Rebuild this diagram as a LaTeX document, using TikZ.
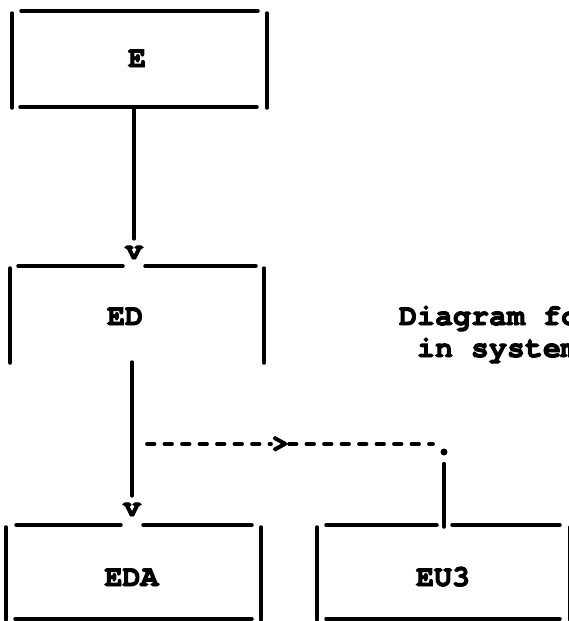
\documentclass[tikz,border=0pt]{standalone}
\usepackage{fontspec}
\newfontfamily\asciifont{TeX Gyre Cursor}[BoldFeatures={FakeBold=3.2}]
\newcommand\boxsides[1]{%
  \draw[ln] ([yshift=-2pt]#1.north west) -- ([yshift=-1pt]#1.south west);
  \draw[ln] ([yshift=-2pt]#1.north east) -- ([yshift=-1pt]#1.south east);}
\begin{document}
\begin{tikzpicture}[x=1pt,y=-1pt,
  ln/.style={line width=3.5pt,line cap=round},
  dsh/.style={line width=3.8pt,line cap=round,dash pattern=on 7.5pt off 10pt},
  lbl/.style={font=\asciifont\bfseries\fontsize{30}{32}\selectfont,inner sep=0pt,outer sep=0pt},
  frame/.style={rectangle,draw=none,inner sep=0pt,outer sep=0pt}]
\useasboundingbox (0,0) rectangle (569,621);

% box frames
\node[frame,minimum width=255pt,minimum height=96pt] (E) at (139.5,59) {};
\node[frame,minimum width=254pt,minimum height=96pt] (ED) at (137,314) {};
\node[frame,minimum width=255pt,minimum height=94pt] (EDA) at (133.5,572) {};
\node[frame,minimum width=253pt,minimum height=94pt] (EU3) at (443.5,572) {};

% labels
\node[lbl,anchor=base] (tE) at (137,67) {E};
\node[lbl,anchor=base] (tED) at (125,325) {ED};
\node[lbl,anchor=base] (tEDA) at (131.5,586) {EDA};
\node[lbl,anchor=base] (tEU3) at (443,586) {EU3};
\node[lbl,anchor=base west] (n1) at (399,325) {Diagram fo};
\node[lbl,anchor=base west] (n2) at (399,357) {\ in system};

% arrow heads (ASCII v)
\node[lbl,anchor=base] (v1) at (134,259) {v};
\node[lbl,anchor=base] (v2) at (132,516) {v};

% box E
\draw[ln] ([xshift=9pt]E.north west) -- ([xshift=-9pt]E.north east);
\draw[ln] ([xshift=8pt]E.south west) -- ([xshift=-10pt]E.south east);
\boxsides{E}

% box ED (open bottom)
\draw[ln] ([xshift=8pt]ED.north west) -- ([xshift=-2pt]ED.north -| v1.west);
\draw[ln] ([xshift=2pt]ED.north -| v1.east) -- ([xshift=-8pt]ED.north east);
\boxsides{ED}

% box EDA
\draw[ln] ([xshift=10pt]EDA.north west) -- ([xshift=-2pt]EDA.north -| v2.west);
\draw[ln] ([xshift=2pt]EDA.north -| v2.east) -- ([xshift=-9pt]EDA.north east);
\draw[ln] ([xshift=9pt]EDA.south west) -- ([xshift=-9pt]EDA.south east);
\boxsides{EDA}

% connectors
\draw[ln,shorten >=7pt] (E.south -| v1) -- (v1.north);
\draw[ln,shorten >=7pt] (ED.south -| v2) -- (v2.north);

% dashed branch
\coordinate (br) at (147,444);
\node[lbl] (gt) at (280,444) {>};
\coordinate (de) at (433,444);
\draw[dsh] (br) -- (gt.west);
\draw[dsh] (gt.east) -- (de);
\node[circle,fill,inner sep=0pt,minimum size=7pt] (dot) at (444,452) {};

% box EU3
\draw[ln,shorten <=8pt] (dot.south) -- ([yshift=-2pt]EU3.north -| dot);
\draw[ln] ([xshift=9pt]EU3.north west) -- ([xshift=-7pt]EU3.north -| dot);
\draw[ln] ([xshift=8pt]EU3.north -| dot) -- ([xshift=-10pt]EU3.north east);
\draw[ln] ([xshift=9pt]EU3.south west) -- ([xshift=-10pt]EU3.south east);
\boxsides{EU3}
\end{tikzpicture}
\end{document}
